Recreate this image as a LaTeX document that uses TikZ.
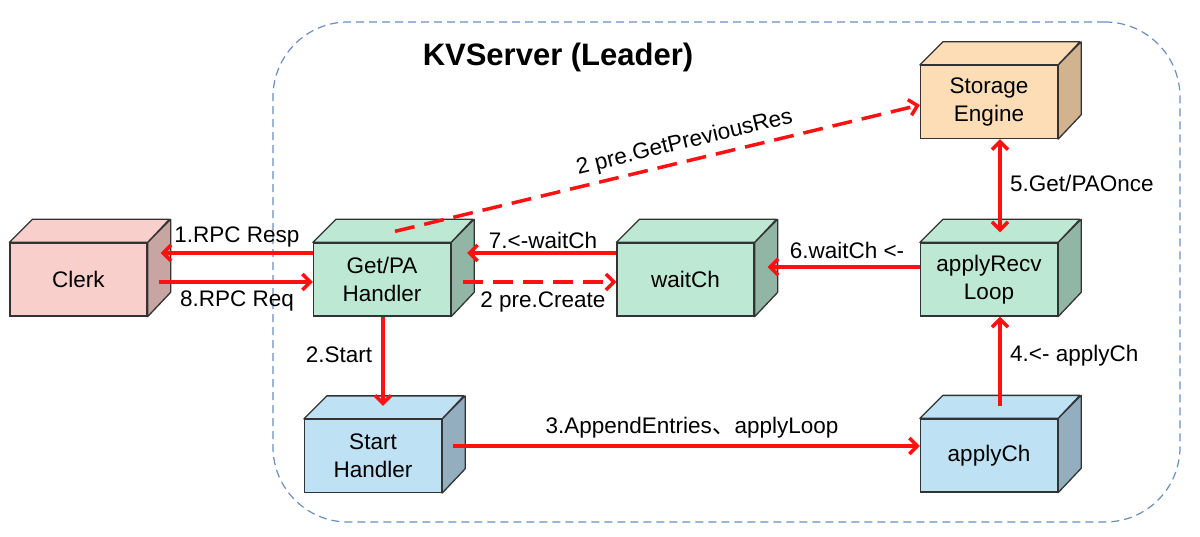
\documentclass[tikz,border=0pt]{standalone}
\usepackage{fontspec}
\setmainfont{Liberation Sans}
\newfontfamily\cjk{Noto Sans CJK SC}
\usetikzlibrary{arrows.meta}
\definecolor{edgegray}{HTML}{333333}
\definecolor{kvred}{HTML}{FF1111}
\definecolor{kvblue}{HTML}{6C8EBF}
\definecolor{pinkF}{HTML}{F8CFCB}
\definecolor{pinkS}{HTML}{C6A5A2}
\definecolor{orangeF}{HTML}{FCDDB5}
\definecolor{orangeS}{HTML}{D1B48F}
\definecolor{greenF}{HTML}{BDE8D3}
\definecolor{greenS}{HTML}{92B6A5}
\definecolor{blueF}{HTML}{BEE1F3}
\definecolor{blueS}{HTML}{92AEBF}
\tikzset{
  cubefront/.style={draw=edgegray, line width=1.3pt, minimum width=137pt, minimum height=73pt,
    inner sep=0pt, align=center, font=\fontsize{22.5}{28}\selectfont},
  cubeface/.style={draw=edgegray, line width=1.3pt, line join=round},
  kvtip/.tip={Straight Barb[length=8pt,width=16pt]},
  flow/.style={draw=kvred, line width=3.5pt, -kvtip},
  flowdash/.style={flow, dash pattern=on 20pt off 10pt},
  lbl/.style={font=\fontsize{22.5}{27}\selectfont, inner sep=0pt},
  container/.style={draw=kvblue, line width=1.2pt, dash pattern=on 8pt off 5pt, rounded corners=75pt,
    minimum width=907pt, minimum height=500pt, inner sep=0pt}
}
\newcommand{\kvcube}[6]{%
  \node[cubefront, fill=#5] (#1) at (#2,#3) {#4};
  \filldraw[cubeface, fill=#6] (#1.north east) -- ++(23,-23) -- ++(0,73) -- (#1.south east) -- cycle;
  \filldraw[cubeface, fill=#5] (#1.north west) -- ++(23,-23) -- ++(137,0) -- (#1.north east) -- cycle;
}
\begin{document}
\begin{tikzpicture}[x=1pt, y=-1pt]
\useasboundingbox[fill=white] (0,0) rectangle (1200,537);
\node[container] (server) at (726.5,272) {};
\node[font=\bfseries\fontsize{31}{37}\selectfont] (title) at (558,57) {KVServer (Leader)};

\kvcube{clerk}{78.5}{279.5}{Clerk}{pinkF}{pinkS}
\kvcube{getpa}{382}{279.5}{Get/PA\\Handler}{greenF}{greenS}
\kvcube{waitch}{685.5}{279.5}{waitCh}{greenF}{greenS}
\kvcube{applyrecv}{989}{279.5}{applyRecv\\Loop}{greenF}{greenS}
\kvcube{storage}{989}{102}{Storage\\Engine}{orangeF}{orangeS}
\kvcube{start}{373}{456}{Start\\Handler}{blueF}{blueS}
\kvcube{applych}{989}{455.5}{applyCh}{blueF}{blueS}

% 1 RPC Resp
\draw[flow] ([yshift=26.5pt]getpa.west) -- ([xshift=13pt,yshift=26.5pt]clerk.east);
\node[lbl] (l1) at (237,237) {1.RPC Resp};
% 8 RPC Req
\draw[flow] ([xshift=11pt,yshift=-2.5pt]clerk.east) -- ([yshift=-2.5pt]getpa.west);
\node[lbl] (l8) at (237,301) {8.RPC Req};
% 7 <-waitCh
\draw[flow] ([yshift=26.5pt]waitch.west) -- ([xshift=16pt,yshift=26.5pt]getpa.east);
\node[lbl] (l7) at (543,240) {7.<-waitCh};
% 2 pre.Create
\draw[flowdash] ([xshift=12pt,yshift=-2.5pt]getpa.east) -- ([yshift=-2.5pt]waitch.west);
\node[lbl] (l2c) at (543,302) {2 pre.Create};
% 6 waitCh <-
\draw[flow] ([yshift=12.5pt]applyrecv.west) -- ([xshift=13pt,yshift=12.5pt]waitch.east);
\node[lbl] (l6) at (847,250) {6.waitCh <-};
% 5 Get/PAOnce
\draw[flow, kvtip-kvtip]
  ([xshift=11pt]storage.south) -- ([xshift=11pt,yshift=10pt]applyrecv.north);
\node[lbl, anchor=west] (l5) at (1010,183) {5.Get/PAOnce};
% 4 <- applyCh
\draw[flow] ([xshift=11pt,yshift=12pt]applych.north) -- ([xshift=11pt]applyrecv.south);
\node[lbl, anchor=west] (l4) at (1010,356) {4.<- applyCh};
% 2 Start
\draw[flow] ([xshift=1pt]getpa.south) -- ([xshift=10pt,yshift=13pt]start.north);
\node[lbl] (l2s) at (339,355) {2.Start};
% 3 AppendEntries
\draw[flow] ([xshift=11pt,yshift=10pt]start.east) -- ([yshift=9.5pt]applych.west);
\node[lbl] (l3) at (692,428) {3.AppendEntries{\cjk 、}applyLoop};
% 2 pre.GetPreviousRes
\draw[flowdash] ([xshift=13pt,yshift=11pt]getpa.north) -- node[lbl, sloped, above=6pt, pos=0.56] (l2g) {2 pre.GetPreviousRes} ([yshift=-3pt]storage.west);
\end{tikzpicture}
\end{document}
